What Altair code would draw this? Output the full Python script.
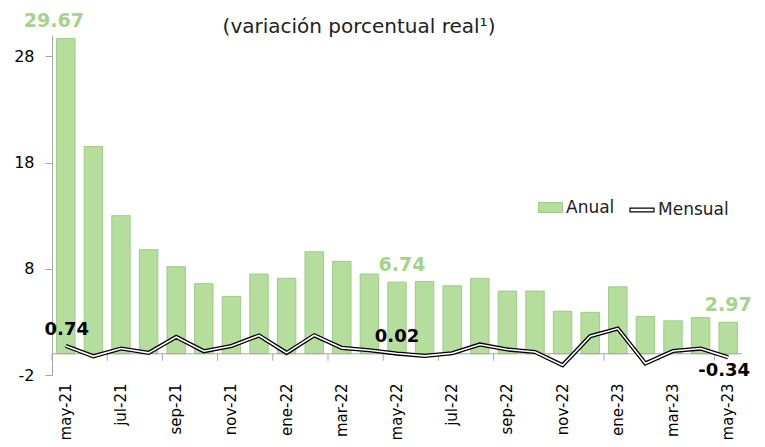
import altair as alt
import pandas as pd

meses = ["may-21", "jun-21", "jul-21", "ago-21", "sep-21", "oct-21", "nov-21", "dic-21",
         "ene-22", "feb-22", "mar-22", "abr-22", "may-22", "jun-22", "jul-22", "ago-22",
         "sep-22", "oct-22", "nov-22", "dic-22", "ene-23", "feb-23", "mar-23", "abr-23", "may-23"]
anual = [29.67, 19.5, 13.0, 9.8, 8.2, 6.6, 5.4, 7.5, 7.1, 9.6, 8.7, 7.5, 6.74,
         6.8, 6.4, 7.1, 5.9, 5.9, 4.0, 3.9, 6.3, 3.5, 3.1, 3.4, 2.97]
mensual = [0.74, -0.24, 0.49, 0.08, 1.58, 0.24, 0.73, 1.72, 0.08, 1.74, 0.55, 0.33, 0.02,
           -0.2, 0.05, 0.87, 0.4, 0.17, -1.08, 1.65, 2.37, -0.92, 0.26, 0.49, -0.34]
y_ticks = [-2, 8, 18, 28]
# (index, dx, dy) of the labelled points
lbl_anual = [(0, -12, -18), (12, 5, -17), (24, 0, -17)]
lbl_mensual = [(0, 1, -16), (12, 0, -17), (24, -4, 14)]
titulo = "(variación porcentual real¹)"

FONT = "DejaVu Sans"
W, H = 690, 340
GREEN = "#b5de9c"
GREEN_TXT = "#a3d48a"
GRAY = "#a6a6a6"

df = pd.DataFrame({
    "mes": meses, "anual": anual, "mensual": mensual,
    "serie_a": "Anual", "serie_m": "Mensual", "orden": list(range(len(meses))),
})
df["txt_a"] = [f"{v:.2f}" for v in df["anual"]]
df["txt_m"] = [f"{v:.2f}" for v in df["mensual"]]
df_ticks = pd.DataFrame({"mes": meses[::2], "z0": 0.0, "z1": -0.66})
df_zero = pd.DataFrame({"z0": [0.0]})
df_title = pd.DataFrame({"t": [titulo]})

xscale = alt.Scale(domain=meses, paddingInner=0.33, paddingOuter=0.165)
yscale = alt.Scale(domain=[-2, 30], nice=False)

x_axis = alt.Axis(values=meses[::2], labelAngle=-90, ticks=False, domain=False,
                  labelPadding=8, labelFontSize=15, labelFont=FONT, labelColor="black",
                  grid=False)
y_axis = alt.Axis(values=y_ticks, grid=False, domainColor=GRAY, tickColor=GRAY,
                  tickSize=7, labelPadding=11, labelFontSize=16, labelFont=FONT,
                  labelColor="black", labelExpr="toString(datum.value)")

X = alt.X("mes:N", scale=xscale, axis=x_axis, title=None, sort=meses)

bars = alt.Chart(df).mark_bar(stroke="#93c27c", strokeWidth=0.8).encode(
    x=X,
    y=alt.Y("anual:Q", scale=yscale, axis=y_axis, title=None),
    y2=alt.datum(0),
    color=alt.Color("serie_a:N", scale=alt.Scale(domain=["Anual"], range=[GREEN]),
                    legend=alt.Legend(orient="none", legendX=488, legendY=162, title=None,
                                      symbolType="M-1.2,-0.5H1.2V0.5H-1.2Z", symbolSize=400,
                                      symbolStrokeColor="#8fbf78", symbolStrokeWidth=0.8,
                                      labelFontSize=17, labelFont=FONT, labelColor="#222",
                                      labelOffset=5, padding=0)),
)

zero = alt.Chart(df_zero).mark_rule(color=GRAY, strokeWidth=1).encode(
    y=alt.Y("z0:Q", scale=yscale, axis=y_axis, title=None),
    x=alt.value(0), x2=alt.value(W),
)

ticks = alt.Chart(df_ticks).mark_rule(color=GRAY, strokeWidth=1, xOffset=-4.55).encode(
    x=alt.X("mes:N", scale=xscale, axis=x_axis, title=None, sort=meses, bandPosition=0),
    y=alt.Y("z0:Q", scale=yscale, axis=y_axis, title=None),
    y2="z1:Q",
)

line_outer = alt.Chart(df).mark_line(strokeWidth=4.2).encode(
    x=X,
    y=alt.Y("mensual:Q", scale=yscale, axis=y_axis, title=None),
    order="orden:Q",
    stroke=alt.Stroke("serie_m:N", scale=alt.Scale(domain=["Mensual"], range=["black"]),
                      legend=alt.Legend(orient="none", legendX=577, legendY=162, title=None,
                                        symbolType="M-1,-0.16H1V0.16H-1Z", symbolSize=576,
                                        symbolFillColor="white", symbolStrokeColor="black",
                                        symbolStrokeWidth=1.2,
                                        labelFontSize=17, labelFont=FONT, labelColor="#222",
                                        labelOffset=3, padding=0)),
)
line_inner = alt.Chart(df).mark_line(strokeWidth=1.6, color="white").encode(
    x=X,
    y=alt.Y("mensual:Q", scale=yscale, axis=y_axis, title=None),
    order="orden:Q",
)

layers = [bars, zero, ticks, line_outer, line_inner]

for i, dx, dy in lbl_anual:
    layers.append(alt.Chart(df.iloc[[i]]).mark_text(
        fontSize=19, fontWeight="bold", font=FONT, color=GREEN_TXT, dx=dx, dy=dy
    ).encode(
        x=X, y=alt.Y("anual:Q", scale=yscale, axis=y_axis, title=None),
        text="txt_a:N",
    ))
for i, dx, dy in lbl_mensual:
    layers.append(alt.Chart(df.iloc[[i]]).mark_text(
        fontSize=18, fontWeight="bold", font=FONT, color="black", dx=dx, dy=dy
    ).encode(
        x=X, y=alt.Y("mensual:Q", scale=yscale, axis=y_axis, title=None),
        text="txt_m:N",
    ))

layers.append(alt.Chart(df_title).mark_text(
    fontSize=20, font=FONT, color="#222", align="center", baseline="middle"
).encode(
    text="t:N", x=alt.value(307), y=alt.value(-8),
))

chart = alt.layer(*layers).properties(
    width=W, height=H,
    autosize="none",
    padding={"left": 44, "top": 27, "right": 15, "bottom": 64},
).resolve_legend(color="independent", stroke="independent").configure_view(stroke=None)

chart.save("out.html", embed_options={"renderer": "svg", "actions": False})
